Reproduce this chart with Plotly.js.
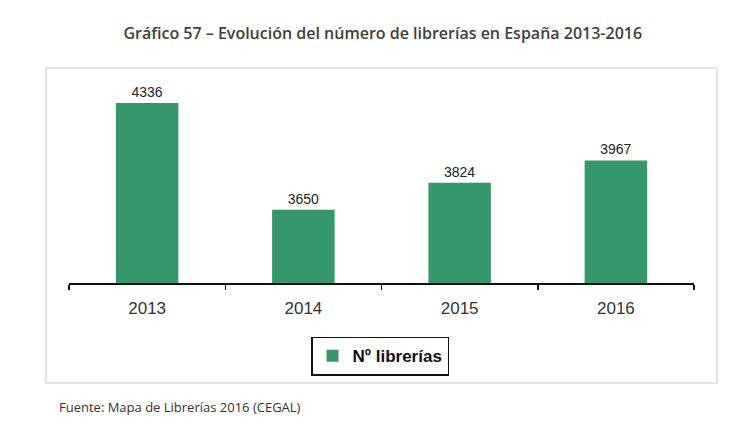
<!DOCTYPE html>
<html>
<head>
<meta charset="utf-8">
<script src="https://cdn.plot.ly/plotly-3.0.1.min.js"></script>
<style>html,body{margin:0;padding:0;background:#fff;}#chart{width:750px;height:425px;}</style>
</head>
<body>
<div id="chart"></div>
<script>
const years = ["2013", "2014", "2015", "2016"];
const librerias = [4336, 3650, 3824, 3967];
const seriesName = "Nº librerías";
const titleText = "Gráfico 57 – Evolución del número de librerías en España 2013-2016";
const sourceText = "Fuente: Mapa de Librerías 2016 (CEGAL)";

const trace = {
  type: "bar",
  x: years,
  y: librerias,
  name: seriesName,
  marker: {color: "#35976a"},
  text: librerias.map(String),
  textposition: "outside",
  textfont: {family: "Liberation Sans, Arial, sans-serif", size: 14, color: "#222"},
  cliponaxis: false,
  showlegend: true,
  hoverinfo: "x+y"
};

const layout = {
  width: 750,
  height: 425,
  margin: {l: 69, r: 56, t: 80, b: 142},
  paper_bgcolor: "#ffffff",
  plot_bgcolor: "rgba(0,0,0,0)",
  bargap: 0.6,
  title: {
    text: titleText,
    x: 0.502, xref: "paper", xanchor: "center",
    y: 1 - 33/425, yref: "container", yanchor: "middle",
    font: {family: "Open Sans, sans-serif", size: 16, color: "#404040", weight: 600}
  },
  xaxis: {
    type: "category",
    showline: true, linecolor: "#111", linewidth: 2,
    ticks: "outside", tickson: "boundaries", ticklen: 5, tickwidth: 1.5, tickcolor: "#111",
    ticklabelstandoff: 9,
    tickfont: {family: "Liberation Sans, Arial, sans-serif", size: 17, color: "#333"},
    showgrid: false, zeroline: false, fixedrange: true
  },
  yaxis: {
    range: [3180, 4483],
    visible: false, showgrid: false, zeroline: false, fixedrange: true
  },
  showlegend: true,
  legend: {
    orientation: "h",
    x: 0.4976, xanchor: "center", xref: "paper",
    y: -0.265, yanchor: "top", yref: "paper",
    bordercolor: "#111", borderwidth: 1.5, bgcolor: "#fff",
    font: {family: "Liberation Sans, Arial, sans-serif", size: 17, color: "#111", weight: "bold"}
  },
  shapes: [{
    type: "rect", xref: "paper", yref: "paper",
    x0: -0.0368, x1: 1.0368, y0: -0.4926, y1: 1.059,
    line: {color: "#d9d9d9", width: 1.5}, fillcolor: "rgba(0,0,0,0)", layer: "below"
  }],
  annotations: [{
    text: sourceText,
    xref: "paper", yref: "paper",
    x: (57 - 69) / 625, xanchor: "left",
    y: (283 - 407) / 203, yanchor: "middle",
    showarrow: false,
    font: {family: "Open Sans, sans-serif", size: 13, color: "#333"}
  }]
};

Plotly.newPlot("chart", [trace], layout, {displayModeBar: false, staticPlot: true});
</script>
</body>
</html>
